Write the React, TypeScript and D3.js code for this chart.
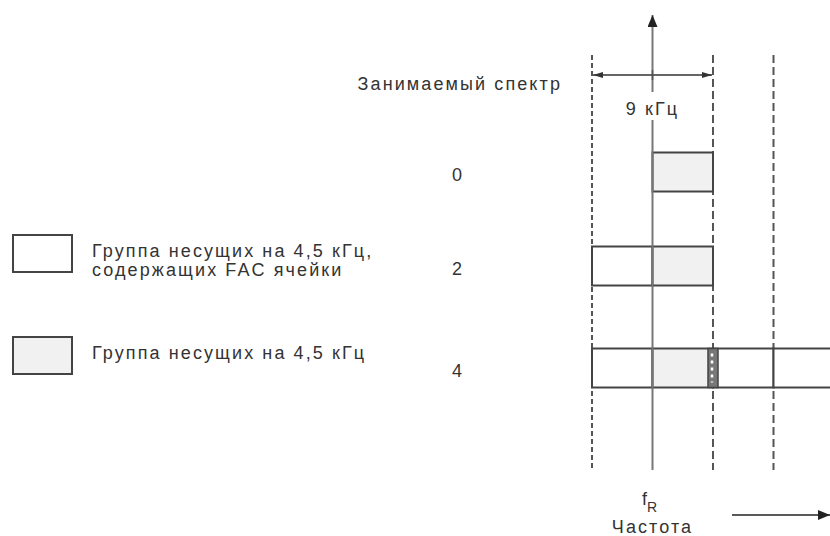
import React from 'react';
import * as d3 from 'd3';

// frequency offsets from f_R in kHz
const gridLines = [-4.5, 4.5, 9];
const modes = ['0', '2', '4'];

interface Segment {
  mode: string;
  from: number;
  to: number;
  fac: boolean;
}

const segments: Segment[] = [
  { mode: '0', from: 0, to: 4.5, fac: false },
  { mode: '2', from: -4.5, to: 0, fac: true },
  { mode: '2', from: 0, to: 4.5, fac: false },
  { mode: '4', from: -4.5, to: 0, fac: true },
  { mode: '4', from: 0, to: 4.5, fac: false },
  { mode: '4', from: 4.5, to: 9, fac: true },
  { mode: '4', from: 9, to: 13.5, fac: true },
];

const legendItems = [
  { lines: ['Группа несущих на 4,5 кГц,', 'содержащих FAC ячейки'], fac: true },
  { lines: ['Группа несущих на 4,5 кГц'], fac: false },
];

const FONT = '"Liberation Sans", Arial, sans-serif';
const TEXT = '#333';
const GRAY_FILL = '#f1f1f1';

export default function App() {
  const width = 830;
  const height = 536;

  const x = d3.scaleLinear().domain([-4.5, 13.5]).range([592, 834]);
  const y = d3.scaleOrdinal<string, number>().domain(modes).range([172, 266, 368]);
  const barH = 39;

  const x0 = x(0);
  const textStyle = { fontFamily: FONT, fontSize: 18, fill: TEXT, letterSpacing: 2.1 };

  return (
    <svg
      width={width}
      height={height}
      style={{ position: 'absolute', left: 0, top: 0, background: '#fff' }}
    >
      <defs>
        <marker id="dim" viewBox="0 0 10 6" refX="10" refY="3" markerWidth="10" markerHeight="6" markerUnits="userSpaceOnUse" orient="auto-start-reverse">
          <path d="M0,0 L10,3 L0,6 Z" fill="#333" />
        </marker>
        <marker id="big" viewBox="0 0 12 10" refX="12" refY="5" markerWidth="12" markerHeight="10" markerUnits="userSpaceOnUse" orient="auto">
          <path d="M0,0 L12,5 L0,10 Z" fill="#222" />
        </marker>
      </defs>

      {/* dashed grid lines */}
      {gridLines.map((g, i) => (
        <line
          key={g}
          x1={x(g)}
          x2={x(g)}
          y1={55}
          y2={470}
          stroke="#555"
          strokeWidth={2}
          strokeDasharray={i === 0 ? '5,3' : '8,4'}
        />
      ))}

      {/* bars */}
      {segments.map((s, i) => (
        <rect
          key={i}
          x={x(s.from)}
          y={y(s.mode) - barH / 2}
          width={x(s.to) - x(s.from)}
          height={barH}
          fill={s.fac ? '#fff' : GRAY_FILL}
          stroke="#444"
          strokeWidth={2}
        />
      ))}

      {/* boundary cell in mode 4 */}
      <rect
        x={x(4.5) - 5}
        y={y('4') - barH / 2}
        width={10}
        height={barH}
        fill="#777"
        stroke="#444"
        strokeWidth={1.5}
      />
      <line
        x1={x(4.5) - 1}
        x2={x(4.5) - 1}
        y1={y('4') - barH / 2 + 5}
        y2={y('4') + barH / 2 - 5}
        stroke="#fff"
        strokeWidth={2.5}
        strokeDasharray="3,4"
      />

      {/* vertical axis at f_R */}
      <line x1={x0} x2={x0} y1={470} y2={120} stroke="#777" strokeWidth={2} />
      <line x1={x0} x2={x0} y1={92} y2={15} stroke="#777" strokeWidth={2} markerEnd="url(#big)" />

      {/* 9 kHz dimension */}
      <line
        x1={x(-4.5) + 1}
        x2={x(4.5) - 1}
        y1={75}
        y2={75}
        stroke="#333"
        strokeWidth={1.5}
        markerStart="url(#dim)"
        markerEnd="url(#dim)"
      />
      <line x1={x0} x2={x0} y1={70} y2={80} stroke="#555" strokeWidth={1.5} />
      <text x={x0} y={115} textAnchor="middle" style={textStyle}>9 кГц</text>

      {/* labels */}
      <text x={562} y={90} textAnchor="end" style={textStyle}>Занимаемый спектр</text>
      {modes.map((m) => (
        <text key={m} x={458} y={y(m) + 9} textAnchor="middle" style={textStyle}>
          {m}
        </text>
      ))}

      {/* legend */}
      {legendItems.map((item, i) => {
        const top = i === 0 ? 235 : 337;
        return (
          <g key={i}>
            <rect
              x={13}
              y={top}
              width={59}
              height={37}
              fill={item.fac ? '#fff' : GRAY_FILL}
              stroke="#444"
              strokeWidth={2}
            />
            {item.lines.map((l, j) => (
              <text key={j} x={92} y={top + 22 + j * 19} style={textStyle}>
                {l}
              </text>
            ))}
          </g>
        );
      })}

      {/* frequency label */}
      <text x={642} y={505} style={{ ...textStyle, letterSpacing: 0 }}>
        f
        <tspan dy={7} fontSize={14}>R</tspan>
      </text>
      <text x={x0} y={533} textAnchor="middle" style={textStyle}>Частота</text>
      <line x1={732} x2={830} y1={515} y2={515} stroke="#222" strokeWidth={1.5} markerEnd="url(#big)" />
    </svg>
  );
}
